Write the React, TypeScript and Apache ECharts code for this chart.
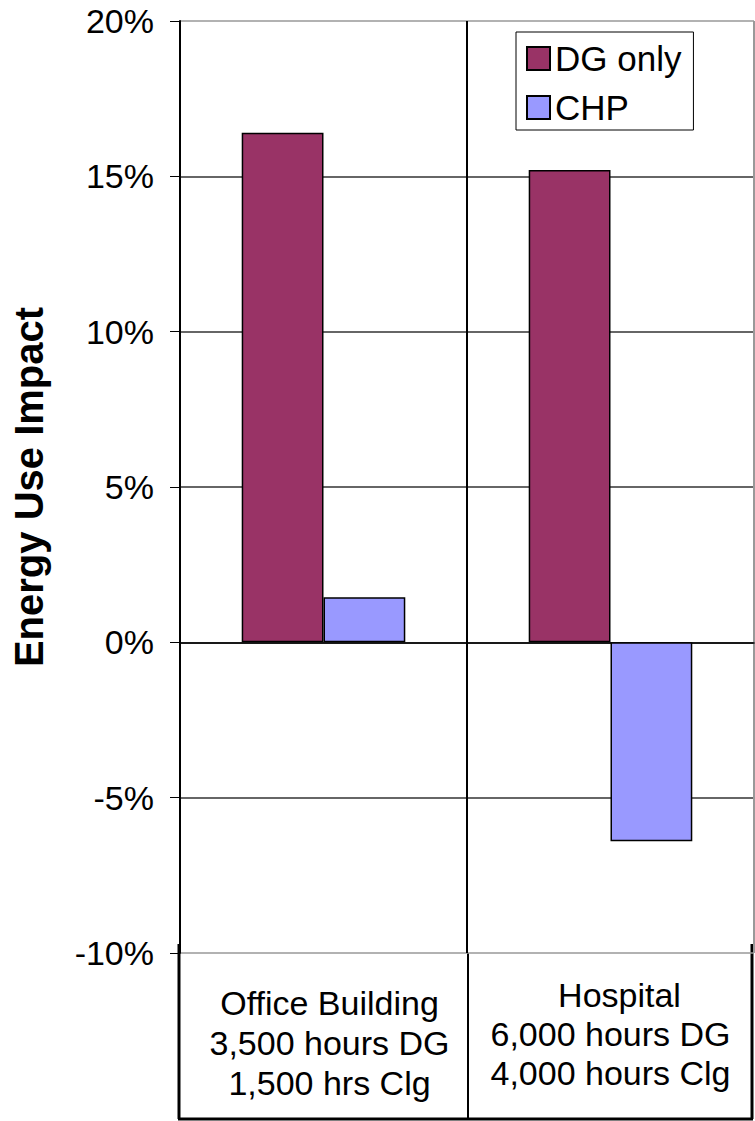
import React, { useEffect, useRef } from "react";
import * as echarts from "echarts";

const categories = [
  "Office Building\n3,500 hours DG\n1,500 hrs Clg",
  "Hospital\n6,000 hours DG\n4,000 hours Clg",
];
const dgOnly = [16.4, 15.2];
const chp = [1.45, -6.4];
const seriesNames = ["DG only", "CHP"];
const yAxisTitle = "Energy Use Impact";

const FONT = '"Liberation Sans", Arial, sans-serif';

export default function App() {
  const ref = useRef<HTMLDivElement>(null);
  useEffect(() => {
    if (!ref.current) return;
    const chart = echarts.init(ref.current, null, { renderer: "svg" });
    chart.setOption({
      animation: false,
      textStyle: { fontFamily: FONT },
      grid: { left: 180, right: 1, top: 21, bottom: 168, containLabel: false },
      legend: {
        data: seriesNames,
        left: 516,
        top: 32,
        orient: "vertical",
        itemWidth: 23,
        itemHeight: 23,
        itemGap: 14,
        padding: [9, 12, 5, 10],
        borderColor: "#000",
        borderWidth: 1,
        backgroundColor: "#fff",
        textStyle: { fontSize: 35, color: "#000", fontFamily: FONT },
        icon: "rect",
      },
      xAxis: {
        type: "category",
        data: categories,
        axisLine: { show: true, onZero: true, lineStyle: { color: "#000", width: 1.5 } },
        axisTick: { show: false },
        splitLine: {
          show: true,
          lineStyle: { color: ["#000", "#000", "#999"], width: 2 },
        },
        axisLabel: {
          show: true,
          interval: 0,
          margin: 22,
          color: "#000",
          fontFamily: FONT,
          align: "center",
          formatter: (value: string, index: number) => {
            const lines = value.split("\n");
            if (index === 0) {
              return "{s| }\n" + lines.map((l) => `{a|${l}}`).join("\n");
            }
            return lines.map((l, i) => (i === 0 ? `{h|${l}}` : `{b|${l}}`)).join("\n");
          },
          rich: {
            s: { fontSize: 1, lineHeight: 8 },
            a: { fontSize: 34, lineHeight: 40, color: "#000", fontFamily: FONT, padding: [0, 0, 0, 12] },
            h: { fontSize: 34, lineHeight: 39, color: "#000", fontFamily: FONT, padding: [0, 0, 0, 18] },
            b: { fontSize: 34, lineHeight: 39, color: "#000", fontFamily: FONT },
          },
        },
      },
      yAxis: {
        type: "value",
        min: -10,
        max: 20,
        interval: 5,
        axisLine: { show: true, lineStyle: { color: "#000", width: 2 } },
        axisTick: { show: true, length: 10, lineStyle: { color: "#000", width: 1 } },
        axisLabel: {
          formatter: "{value}%",
          fontSize: 34,
          color: "#000",
          margin: 26,
          fontFamily: FONT,
        },
        splitLine: {
          show: true,
          lineStyle: {
            color: ["#999", "#333", "#333", "#333", "#333", "#333", "#999"],
            width: 1.5,
          },
        },
      },
      series: [
        {
          name: seriesNames[0],
          type: "bar",
          data: dgOnly,
          barCategoryGap: "43%",
          barGap: "0%",
          itemStyle: { color: "#993366", borderColor: "#000", borderWidth: 1.5 },
        },
        {
          name: seriesNames[1],
          type: "bar",
          data: chp,
          barCategoryGap: "43%",
          barGap: "0%",
          itemStyle: { color: "#9999FF", borderColor: "#000", borderWidth: 1.5 },
        },
      ],
      graphic: [
        {
          type: "text",
          x: 29,
          y: 487,
          rotation: Math.PI / 2,
          style: {
            text: yAxisTitle,
            font: `bold 40px ${FONT}`,
            fill: "#000",
            align: "center",
            verticalAlign: "middle",
          },
        },
        { type: "line", shape: { x1: 179, y1: 944, x2: 179, y2: 1119 }, style: { stroke: "#000", lineWidth: 3 } },
        { type: "line", shape: { x1: 178, y1: 1119, x2: 753, y2: 1119 }, style: { stroke: "#000", lineWidth: 3 } },
        { type: "line", shape: { x1: 752, y1: 944, x2: 752, y2: 1119 }, style: { stroke: "#000", lineWidth: 3 } },
        { type: "line", shape: { x1: 468, y1: 953, x2: 468, y2: 1119 }, style: { stroke: "#000", lineWidth: 2 } },
      ],
    });
    return () => chart.dispose();
  }, []);
  return (
    <div
      ref={ref}
      style={{ position: "absolute", left: 0, top: 0, width: 755, height: 1121 }}
    />
  );
}
